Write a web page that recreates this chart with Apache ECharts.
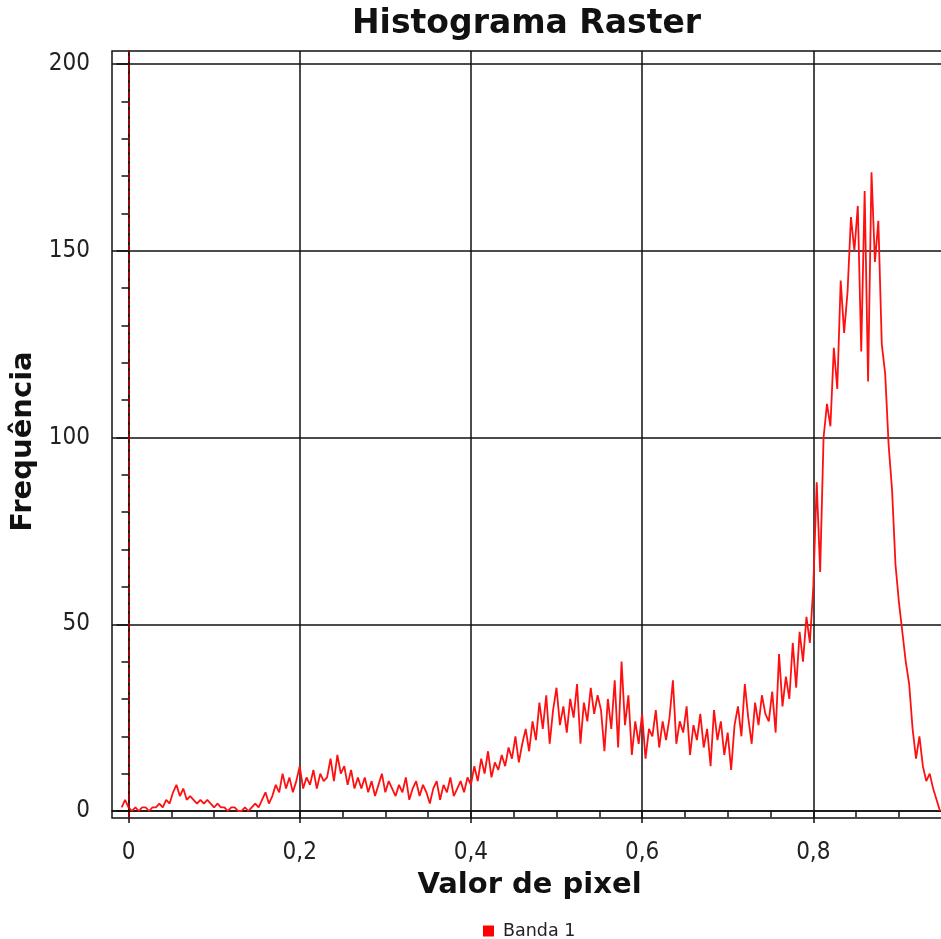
<!DOCTYPE html>
<html>
<head>
<meta charset="utf-8">
<title>Histograma Raster</title>
<script src="https://cdn.jsdelivr.net/npm/echarts@6/dist/echarts.min.js"></script>
<style>
  html, body { margin: 0; padding: 0; background: #fff; }
  #chart { width: 941px; height: 939px; }
</style>
</head>
<body>
<div id="chart"></div>
<script>
// histogram bins: start of first bin and bin width
const binStart = -0.008;
const binWidth = 0.004;
// frequency per bin
const counts = [
  1, 3, 1, 0, 1, 0, 1, 1, 0, 1,
  1, 2, 1, 3, 2, 5, 7, 4, 6, 3,
  4, 3, 2, 3, 2, 3, 2, 1, 2, 1,
  1, 0, 1, 1, 0, 0, 1, 0, 1, 2,
  1, 3, 5, 2, 4, 7, 5, 10, 6, 9,
  5, 8, 12, 6, 9, 7, 11, 6, 10, 8,
  9, 14, 8, 15, 10, 12, 7, 11, 6, 9,
  6, 9, 5, 8, 4, 7, 10, 5, 8, 6,
  4, 7, 5, 9, 3, 6, 8, 4, 7, 5,
  2, 6, 8, 3, 7, 5, 9, 4, 6, 8,
  5, 9, 7, 12, 8, 14, 10, 16, 9, 13,
  11, 15, 12, 17, 14, 20, 13, 18, 22, 16,
  24, 19, 29, 22, 31, 18, 27, 33, 23, 28,
  21, 30, 25, 34, 18, 29, 24, 33, 26, 31,
  27, 16, 30, 22, 35, 17, 40, 23, 31, 15,
  24, 18, 26, 14, 22, 20, 27, 17, 24, 19,
  25, 35, 18, 24, 21, 28, 15, 23, 19, 26,
  17, 22, 12, 27, 19, 24, 15, 21, 11, 23,
  28, 20, 34, 25, 18, 29, 23, 31, 26, 24,
  32, 21, 42, 28, 36, 30, 45, 33, 48, 40,
  52, 45, 60, 88, 64, 100, 109, 103, 124, 113,
  142, 128, 139, 159, 150, 162, 123, 166, 115, 171,
  147, 158, 125, 117, 98, 86, 66, 56, 48, 40,
  34, 22, 14, 20, 12, 8, 10, 6, 3, 0
];

const xTicks = [0, 0.2, 0.4, 0.6, 0.8];
const xMinorTicks = [0.05, 0.1, 0.15, 0.25, 0.3, 0.35, 0.45, 0.5, 0.55, 0.65, 0.7, 0.75, 0.85, 0.9];
const yTicks = [0, 50, 100, 150, 200];
const yMinorTicks = [10, 20, 30, 40, 60, 70, 80, 90, 110, 120, 130, 140, 160, 170, 180, 190];

const xRange = [-0.0193, 0.9562];
const yRange = [-1.87, 203.48];

const fontLabel = "'DejaVu Sans Condensed', 'DejaVu Sans', sans-serif";
const fontBold = "'DejaVu Sans', sans-serif";

const chart = echarts.init(document.getElementById("chart"));

const seriesData = counts.map((c, i) => [binStart + i * binWidth, c]);

const option = {
  animation: false,
  title: {
    text: "Histograma Raster",
    left: 347,
    top: 3,
    textStyle: { fontFamily: fontBold, fontSize: 33, fontWeight: "bold", color: "#111" },
  },
  legend: {
    left: 483,
    top: 922,
    padding: 0,
    itemWidth: 11,
    itemHeight: 11,
    icon: "rect",
    textStyle: { fontFamily: fontBold, fontSize: 17.5, color: "#222", padding: [0, 0, 0, 4] },
    data: ["Banda 1"],
  },
  grid: {
    left: 112,
    top: 51,
    right: -6,
    bottom: 121,
    outerBoundsMode: "none",
    show: true,
    borderColor: "#111",
    borderWidth: 1.5,
  },
  xAxis: [
    {
      type: "value",
      min: xRange[0],
      max: xRange[1],
      name: "Valor de pixel",
      nameLocation: "middle",
      nameGap: 53,
      nameTextStyle: { fontFamily: fontBold, fontSize: 29, fontWeight: "bold", color: "#111" },
      axisLine: { lineStyle: { color: "#111", width: 1.5 } },
      axisTick: { customValues: xTicks, length: 12, lineStyle: { color: "#111", width: 1.5 } },
      axisLabel: {
        customValues: xTicks,
        margin: 23,
        fontFamily: fontLabel,
        fontSize: 24,
        color: "#222",
        formatter: (v) => String(+v.toFixed(2)).replace(".", ","),
      },
      splitLine: { show: true, lineStyle: { color: "#111", width: 1.5 } },
    },
    {
      type: "value",
      position: "bottom",
      min: xRange[0],
      max: xRange[1],
      axisLine: { show: false },
      axisTick: { customValues: xMinorTicks, length: 6, lineStyle: { color: "#111", width: 1.5 } },
      axisLabel: { show: false },
      splitLine: { show: false },
    },
  ],
  yAxis: [
    {
      type: "value",
      min: yRange[0],
      max: yRange[1],
      name: "Frequência",
      nameLocation: "middle",
      nameGap: 66,
      nameTextStyle: {
        fontFamily: fontBold,
        fontSize: 29,
        fontWeight: "bold",
        color: "#111",
        padding: [0, 14, 0, 0],
      },
      axisLine: { show: true, lineStyle: { color: "#111", width: 1.5 } },
      axisTick: { show: true, customValues: yTicks, length: 12, lineStyle: { color: "#111", width: 1.5 } },
      axisLabel: { customValues: yTicks, margin: 22, fontFamily: fontLabel, fontSize: 24, color: "#222" },
      splitLine: { show: true, lineStyle: { color: "#111", width: 1.5 } },
    },
    {
      type: "value",
      position: "left",
      min: yRange[0],
      max: yRange[1],
      axisLine: { show: false },
      axisTick: { show: true, customValues: yMinorTicks, length: 7, lineStyle: { color: "#111", width: 1.5 } },
      axisLabel: { show: false },
      splitLine: { show: false },
    },
  ],
  series: [
    {
      name: "Banda 1",
      type: "line",
      data: seriesData,
      showSymbol: false,
      color: "#ff0000",
      lineStyle: { color: "#ff1010", width: 1.8 },
      markLine: {
        silent: true,
        symbol: "none",
        label: { show: false },
        lineStyle: { color: "#c00000", type: "dashed", width: 1.5 },
        data: [{ xAxis: 0 }],
      },
    },
  ],
};

chart.setOption(option);
</script>
</body>
</html>
